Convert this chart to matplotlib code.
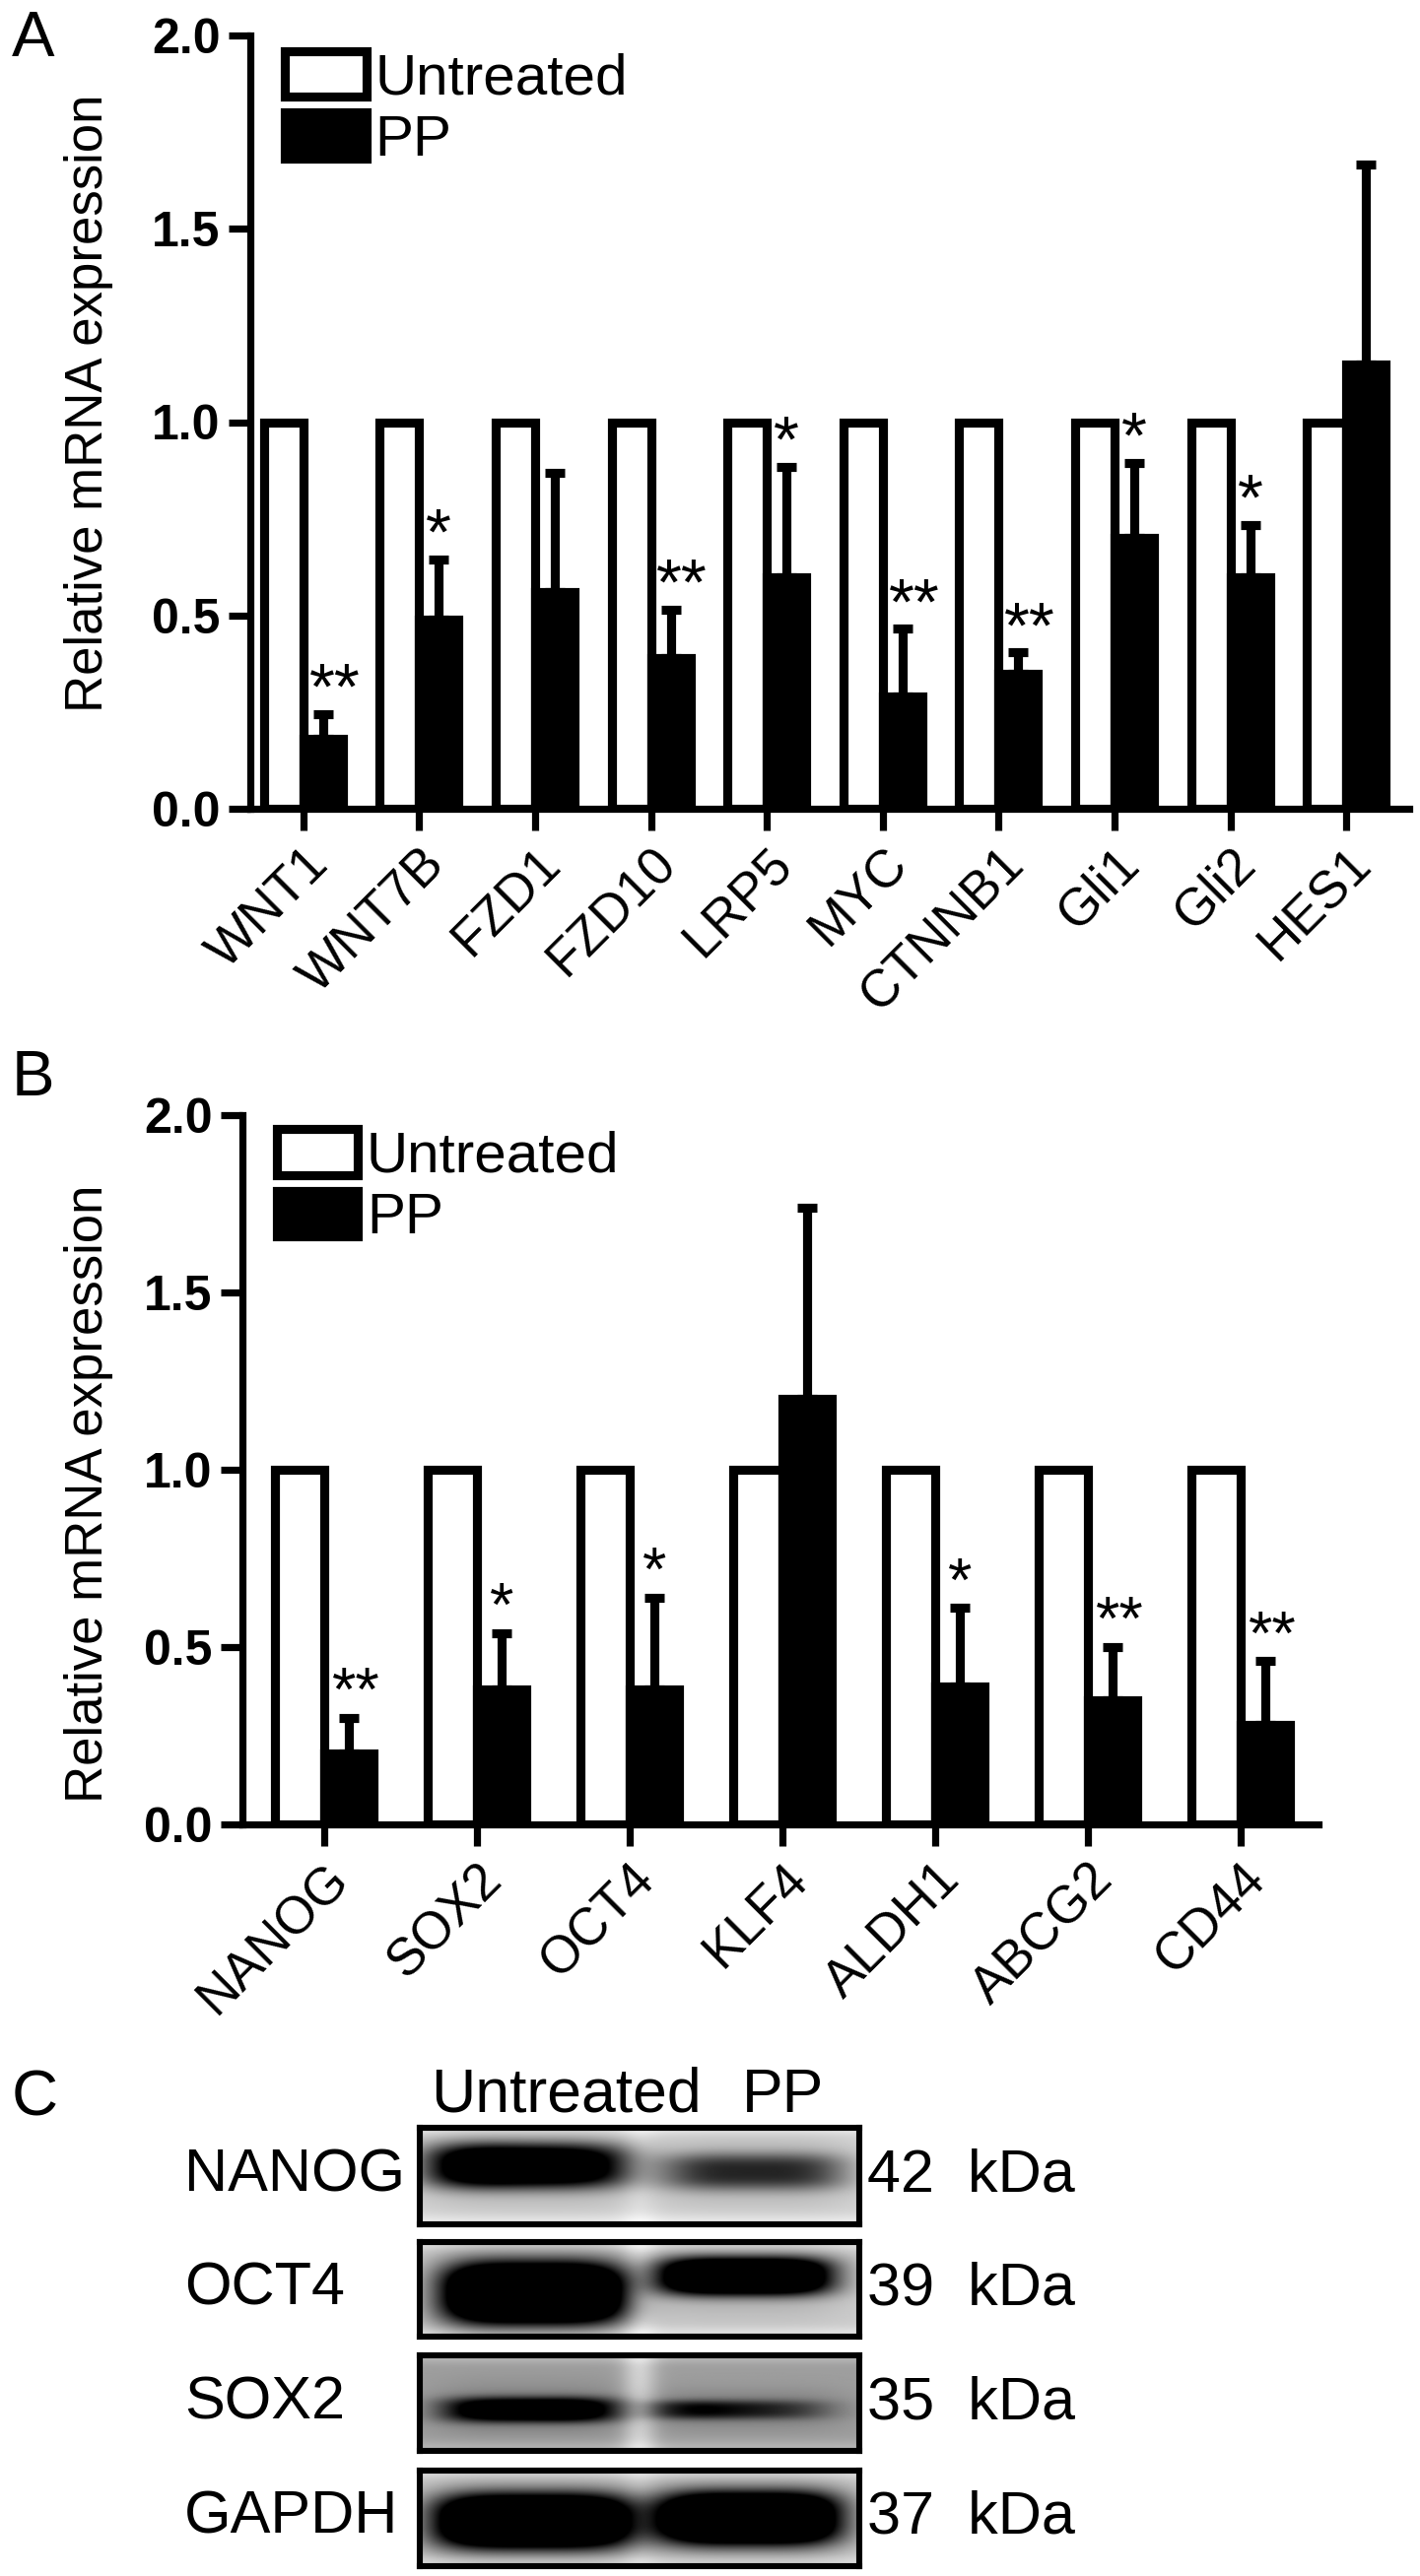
import numpy as np
import matplotlib
matplotlib.use("Agg")
import matplotlib.pyplot as plt
from matplotlib.patches import Patch

W, H = 1441, 2615
plt.rcParams['font.family'] = ['Liberation Sans', 'DejaVu Sans']

genes_a = ["WNT1","WNT7B","FZD1","FZD10","LRP5","MYC","CTNNB1","Gli1","Gli2","HES1"]
pp_a = [0.18,0.49,0.56,0.39,0.60,0.29,0.35,0.70,0.60,1.15]
err_a = [0.065,0.155,0.31,0.125,0.285,0.175,0.055,0.195,0.135,0.515]
sig_a = ["**","*","","**","*","**","**","*","*",""]
genes_b = ["NANOG","SOX2","OCT4","KLF4","ALDH1","ABCG2","CD44"]
pp_b = [0.20,0.38,0.38,1.20,0.39,0.35,0.28]
err_b = [0.10,0.16,0.26,0.54,0.22,0.15,0.18]
sig_b = ["**","*","*","","*","**","**"]
yticks = [0.0,0.5,1.0,1.5,2.0]
untreated = 1.0

fig = plt.figure(figsize=(W/200, H/200), dpi=200, facecolor='white')

def axpx(x0, y0, x1, y1):
    return fig.add_axes([x0/W, 1-y1/H, (x1-x0)/W, (y1-y0)/H])

def panel(box, genes, pp, err, sig, xlim, w, leg_xy, star_fs, star_off, double_dx, ylab_dy):
    ax = axpx(*box)
    x = np.arange(len(genes))
    lw = 3.3
    ax.bar(x-w/2, [untreated]*len(x), w, facecolor='white', edgecolor='k', linewidth=lw)
    ax.bar(x+w/2, pp, w, facecolor='k', edgecolor='k', linewidth=lw)
    ax.errorbar(x+w/2, pp, yerr=[np.zeros(len(x)), err], fmt='none', ecolor='k',
                elinewidth=lw, capsize=3.6, capthick=lw)
    for xi, p, e, s in zip(x, pp, err, sig):
        if s:
            dx = double_dx if s == "**" else 0
            ax.text(xi+w/2+dx, p+e-star_off, s, ha='center', va='bottom', fontsize=star_fs, color='k')
    ax.set_xlim(*xlim)
    ax.set_ylim(0, 2.0)
    ax.set_yticks(yticks)
    ax.set_yticklabels([f"{t:.1f}" for t in yticks], fontweight='bold', fontsize=18)
    ax.set_xticks(x)
    ax.set_xticklabels(genes, rotation=45, ha='right', rotation_mode='anchor', fontsize=19)
    ax.set_ylabel("Relative mRNA expression", fontsize=19)
    ax.yaxis.set_label_coords((115-box[0])/(box[2]-box[0]), 0.5 + ylab_dy)
    for s in ('top','right'):
        ax.spines[s].set_visible(False)
    for s in ('left','bottom'):
        ax.spines[s].set_linewidth(2.6)
    ax.tick_params(width=2.6, length=8, pad=3)
    handles = [Patch(facecolor='white', edgecolor='k', linewidth=lw, label='Untreated'),
               Patch(facecolor='k', edgecolor='k', linewidth=lw, label='PP')]
    ax.legend(handles=handles, loc='upper left', bbox_to_anchor=leg_xy, frameon=False, fontsize=21,
              handlelength=1.41, handleheight=0.85, handletextpad=0.15, labelspacing=0.12,
              borderpad=0, borderaxespad=0)
    return ax

panel((254, 36, 1430, 821), genes_a, pp_a, err_a, sig_a, (-0.457, 9.543), 0.34, (0.03, 0.98), 24, 0.023, 0.10, 0.024)
panel((246, 1132, 1338, 1852), genes_b, pp_b, err_b, sig_b, (-0.535, 6.51), 0.32, (0.032, 0.98), 22.5, 0.014, 0.05, -0.034)

fig.text(12/W, 1-40/H, "A", fontsize=23.5, va='center')
fig.text(12/W, 1-1095/H, "B", fontsize=23.5, va='center')
fig.text(12/W, 1-2130/H, "C", fontsize=23.5, va='center')

# panel C: blots, drawn as band intensities
blot_names = ["NANOG","OCT4","SOX2","GAPDH"]
blot_kda = ["42  kDa","39  kDa","35  kDa","37  kDa"]
blot_tops = [2160,2276,2391,2508]
blot_bots = [2258,2372,2488,2605]
blot_bg = [0.84,0.80,0.62,0.80]
blot_gap = [0.06,0.12,0.20,0.06]
# lane bands: centre x, half width, centre y, half height, peak darkness at both ends of the band
left_band = [(0.25,0.23,0.40,0.23,1.3,1.0),(0.26,0.21,0.54,0.33,1.6,1.6),
             (0.25,0.20,0.57,0.13,0.75,0.85),(0.26,0.23,0.53,0.29,1.5,1.5)]
right_band = [(0.76,0.21,0.46,0.19,0.55,0.55),(0.74,0.20,0.36,0.20,1.4,1.4),
              (0.74,0.21,0.57,0.10,0.62,0.20),(0.75,0.21,0.50,0.28,1.5,1.5)]
xs = np.linspace(0, 1, 440)
ys = np.linspace(0, 1, 100)
for nm, kd, t, bt, bg, gap, lb, rb in zip(blot_names, blot_kda, blot_tops, blot_bots,
                                          blot_bg, blot_gap, left_band, right_band):
    ax = axpx(426, t, 872, bt)
    X, Y = np.meshgrid(xs, ys)
    img = bg + gap*np.exp(-((X-0.50)/0.04)**2)
    img = img + 0.10*(np.exp(-(Y/0.08)**2) + np.exp(-((1-Y)/0.10)**2))
    for cx, hw, cy, hh, a0, a1 in (lb, rb):
        amp = a0 + (a1-a0)*np.clip((X-(cx-hw))/(2*hw), 0, 1)
        img = img - amp*np.exp(-((X-cx)/hw)**4 - np.abs((Y-cy)/hh)**3)
        img = img - 0.15*np.exp(-((X-cx)/(hw*1.1))**4 - ((Y-cy)/(hh*2.0))**2)
    ax.imshow(np.clip(img, 0, 1), cmap='gray', vmin=0, vmax=1, aspect='auto')
    ax.set_xticks([]); ax.set_yticks([])
    for s in ax.spines.values():
        s.set_linewidth(2.2)
    ym = 1-(t+bt)/2/H
    fig.text(187/W, ym, nm, fontsize=22, va='center')
    fig.text(880/W, ym, kd, fontsize=22, va='center')
fig.text(575/W, 1-2127/H, "Untreated", fontsize=22.5, va='center', ha='center')
fig.text(795/W, 1-2127/H, "PP", fontsize=22.5, va='center', ha='center')

fig.savefig("out.png", dpi=200)
